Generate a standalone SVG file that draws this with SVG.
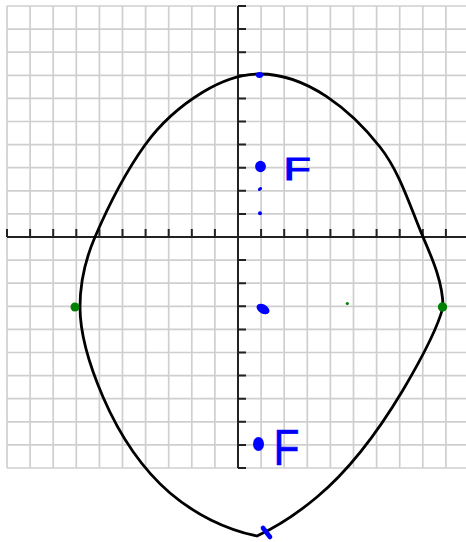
<svg xmlns="http://www.w3.org/2000/svg" width="466" height="542" viewBox="0 0 466 542">
<style>
.grid{stroke:#cfcfcf;stroke-width:1.7;fill:none}
.axis{stroke:#222;stroke-width:2;fill:none}
.curve{stroke:#000;stroke-width:2.8;fill:none;stroke-linejoin:round}
.blue{fill:#0000ff}
.green{fill:#008000}
.lbl{font-family:"Liberation Sans",Arial,sans-serif;fill:#0000ff;stroke:#0000ff}
</style>
<rect width="466" height="542" fill="#fff"/>
<g id="grid">
<path class="grid" d="M7 6V468M30.1 6V468M53.2 6V468M76.3 6V468M99.4 6V468M122.5 6V468M145.6 6V468M168.7 6V468M191.8 6V468M214.9 6V468M261.1 6V468M284.2 6V468M307.3 6V468M330.4 6V468M353.5 6V468M376.6 6V468M399.7 6V468M422.8 6V468M445.9 6V468"/>
<path class="grid" d="M7 6H466M7 29.1H466M7 52.2H466M7 75.3H466M7 98.4H466M7 121.5H466M7 144.6H466M7 167.7H466M7 190.8H466M7 213.9H466M7 260.1H466M7 283.2H466M7 306.3H466M7 329.4H466M7 352.5H466M7 375.6H466M7 398.7H466M7 421.8H466M7 444.9H466M7 468H466"/>
</g>
<g id="axes">
<path class="axis" d="M7 237H466M238 6V468"/>
<path class="axis" d="M7 229V237M30.1 229V237M53.2 229V237M76.3 229V237M99.4 229V237M122.5 229V237M145.6 229V237M168.7 229V237M191.8 229V237M214.9 229V237M261.1 229V237M284.2 229V237M307.3 229V237M330.4 229V237M353.5 229V237M376.6 229V237M399.7 229V237M422.8 229V237M445.9 229V237"/>
<path class="axis" d="M238 6H246M238 29.1H246M238 52.2H246M238 75.3H246M238 98.4H246M238 121.5H246M238 144.6H246M238 167.7H246M238 190.8H246M238 213.9H246M238 260.1H246M238 283.2H246M238 306.3H246M238 329.4H246M238 352.5H246M238 375.6H246M238 398.7H246M238 421.8H246M238 444.9H246M238 468H246"/>
</g>
<g id="curve">
<path class="curve" d="M260,74 C307,74 351,110 380,147 C400.4,173 410,206.6 423,237 C432.5,259 443,283 443,307 C437,331 416,368 403,390 C379.4,429.5 352.3,467.6 317,497 C298.6,512.4 278.6,526 257,536 C225.6,529.6 194.3,513.9 170,493 C140.4,467.5 118.5,432.8 103,397 C90.7,368.5 80,338 80,307 C80,283 85.5,259 95,237 C108.8,204.8 124.6,173.5 145,145 C160.1,123.9 180.8,105.5 203,92 C220.1,81.6 240,74 260,74 Z"/>
</g>
<g id="points-green">
<circle class="green" cx="75" cy="307" r="4.5"/>
<circle class="green" cx="442.5" cy="307" r="4.7"/>
<circle class="green" cx="347.3" cy="303.5" r="1.6"/>
</g>
<g id="points-blue">
<ellipse class="blue" cx="259.5" cy="75" rx="3.6" ry="3"/>
<ellipse class="blue" cx="260.5" cy="166.5" rx="5.4" ry="5.8"/>
<ellipse class="blue" cx="260" cy="189" rx="2.3" ry="1.7" transform="rotate(-40 260 189)"/>
<circle class="blue" cx="260" cy="213.3" r="2"/>
<ellipse class="blue" cx="263" cy="309" rx="7" ry="4.5" transform="rotate(30 263 309)"/>
<ellipse class="blue" cx="258.5" cy="444" rx="5.5" ry="7"/>
<path d="M263 528L270 537" stroke="#0000ff" stroke-width="4.6" stroke-linecap="round"/>
</g>
<g id="label-F-top">
<text class="lbl" transform="translate(283.5,180) scale(1.4,1)" font-size="32" stroke-width="1">F</text>
</g>
<g id="label-F-bottom">
<text class="lbl" transform="translate(273.6,465) scale(0.85,1)" font-size="50" stroke-width="0.6">F</text>
</g>
</svg>
